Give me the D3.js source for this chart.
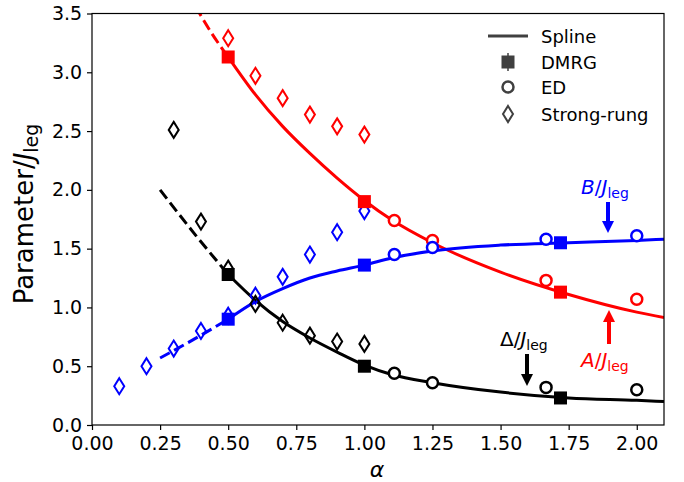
<!DOCTYPE html>
<html>
<head>
<meta charset="utf-8">
<script src="https://cdn.jsdelivr.net/npm/d3@7"></script>
<style>
  body { margin: 0; background: #fff; }
  text { font-family: "DejaVu Sans", sans-serif; }
</style>
</head>
<body>
<div id="chart"></div>
<script>
// DMRG points
const alphaDmrg = [0.5, 1.0, 1.72];
const dmrgA = [3.13, 1.90, 1.13];
const dmrgB = [0.90, 1.36, 1.55];
const dmrgD = [1.28, 0.50, 0.23];

// ED points
const alphaEd = [1.11, 1.25, 1.667, 2.0];
const edA = [1.74, 1.57, 1.23, 1.07];
const edB = [1.45, 1.51, 1.58, 1.61];
const edD = [0.44, 0.36, 0.32, 0.30];

// strong-rung expansion
const alphaSr = [0.1, 0.2, 0.3, 0.4, 0.5, 0.6, 0.7, 0.8, 0.9, 1.0];
const srA = [null, null, null, null, 3.29, 2.97, 2.78, 2.64, 2.54, 2.47];
const srB = [0.33, 0.50, 0.65, 0.80, 0.93, 1.10, 1.26, 1.45, 1.64, 1.82];
const srD = [null, null, 2.51, 1.73, 1.33, 1.03, 0.87, 0.76, 0.71, 0.69];

// spline curves
const alphaSpl = [0.5, 0.6, 0.7, 0.8, 0.9, 1.0, 1.1, 1.25, 1.5, 1.75, 2.0, 2.1];
const splA = [3.13, 2.81, 2.54, 2.31, 2.10, 1.91, 1.745, 1.55, 1.30, 1.11, 0.96, 0.915];
const splB = [0.90, 1.05, 1.16, 1.25, 1.31, 1.36, 1.42, 1.48, 1.53, 1.55, 1.57, 1.58];
const splD = [1.28, 1.06, 0.88, 0.74, 0.62, 0.51, 0.43, 0.36, 0.28, 0.23, 0.21, 0.20];
// extrapolated (dashed) parts
const alphaDashA = [0.38, 0.44, 0.5];
const dashA = [3.56, 3.33, 3.13];
const alphaDash = [0.25, 0.375, 0.5];
const dashB = [0.57, 0.73, 0.90];
const dashD = [2.00, 1.63, 1.28];

const xTicks = [0, 0.25, 0.5, 0.75, 1.0, 1.25, 1.5, 1.75, 2.0];
const yTicks = [0, 0.5, 1.0, 1.5, 2.0, 2.5, 3.0, 3.5];

const W = 684, H = 482;
const margin = { left: 92, right: 20, top: 13.5, bottom: 57 };

const svg = d3.select("#chart").append("svg")
  .attr("width", W).attr("height", H);

const x = d3.scaleLinear().domain([0, 2.1]).range([margin.left, W - margin.right]);
const y = d3.scaleLinear().domain([0, 3.5]).range([H - margin.bottom, margin.top]);

svg.append("clipPath").attr("id", "clip").append("rect")
  .attr("x", x(0)).attr("y", y(3.5))
  .attr("width", x(2.1) - x(0)).attr("height", y(0) - y(3.5));

const plot = svg.append("g").attr("clip-path", "url(#clip)");

const line = d3.line()
  .x((d) => x(d[0]))
  .y((d) => y(d[1]))
  .curve(d3.curveMonotoneX);

function curve(xs, ys, color, dashed) {
  plot.append("path")
    .datum(xs.map((a, i) => [a, ys[i]]))
    .attr("d", line)
    .attr("fill", "none")
    .attr("stroke", color)
    .attr("stroke-width", 3)
    .attr("stroke-dasharray", dashed ? "11,5" : null);
}

curve(alphaDashA, dashA, "red", true);
curve(alphaDash, dashB, "blue", true);
curve(alphaDash, dashD, "black", true);
curve(alphaSpl, splA, "red", false);
curve(alphaSpl, splB, "blue", false);
curve(alphaSpl, splD, "black", false);

const diamond = "M0,-8L5,0L0,8L-5,0Z";

function markers(xs, ys, color, kind) {
  const pts = xs.map((a, i) => [a, ys[i]]).filter((d) => d[1] != null);
  const g = svg.append("g");
  if (kind === "sq") {
    g.selectAll("rect").data(pts).join("rect")
      .attr("x", (d) => x(d[0]) - 6.5)
      .attr("y", (d) => y(d[1]) - 6.5)
      .attr("width", 13).attr("height", 13)
      .attr("fill", color);
  } else if (kind === "ci") {
    g.selectAll("circle").data(pts).join("circle")
      .attr("cx", (d) => x(d[0]))
      .attr("cy", (d) => y(d[1]))
      .attr("r", 5.5)
      .attr("fill", "white")
      .attr("stroke", color).attr("stroke-width", 2.5);
  } else {
    g.selectAll("path").data(pts).join("path")
      .attr("d", diamond)
      .attr("transform", (d) => "translate(" + x(d[0]) + "," + y(d[1]) + ")")
      .attr("fill", "none")
      .attr("stroke", color).attr("stroke-width", 2);
  }
}

markers(alphaSr, srB, "blue", "di");
markers(alphaSr, srD, "black", "di");
markers(alphaSr, srA, "red", "di");
markers(alphaDmrg, dmrgA, "red", "sq");
markers(alphaDmrg, dmrgB, "blue", "sq");
markers(alphaDmrg, dmrgD, "black", "sq");
markers(alphaEd, edA, "red", "ci");
markers(alphaEd, edB, "blue", "ci");
markers(alphaEd, edD, "black", "ci");

// axes
const xAxis = svg.append("g")
  .attr("transform", "translate(0," + y(0) + ")")
  .call(d3.axisBottom(x).tickValues(xTicks).tickFormat(d3.format(".2f")).tickSize(5).tickSizeOuter(0));
const yAxis = svg.append("g")
  .attr("transform", "translate(" + x(0) + ",0)")
  .call(d3.axisLeft(y).tickValues(yTicks).tickFormat(d3.format(".1f")).tickSize(5).tickSizeOuter(0));
[xAxis, yAxis].forEach((a) => {
  a.selectAll("text").attr("font-size", 19).attr("font-family", "DejaVu Sans").attr("fill", "black");
  a.selectAll("line").attr("stroke", "black").attr("stroke-width", 1.2);
  a.select(".domain").remove();
});
xAxis.selectAll("text").attr("dy", "0.9em");
yAxis.selectAll("text").attr("dx", "-0.1em");

svg.append("rect")
  .attr("x", x(0)).attr("y", y(3.5))
  .attr("width", x(2.1) - x(0)).attr("height", y(0) - y(3.5))
  .attr("fill", "none").attr("stroke", "black").attr("stroke-width", 1.2);

// axis labels
svg.append("text")
  .attr("x", 377).attr("y", 476.5)
  .attr("text-anchor", "middle").attr("font-size", 22)
  .attr("font-style", "italic").text("α");

const yl = svg.append("text")
  .attr("transform", "translate(33,214) rotate(-90)")
  .attr("text-anchor", "middle").attr("font-size", 26);
yl.append("tspan").text("Parameter/");
yl.append("tspan").attr("font-style", "italic").text("J");
yl.append("tspan").attr("font-size", 19).attr("dy", 5).text("leg");

// annotations
function label(px, py, head, color) {
  const t = svg.append("text").attr("x", px).attr("y", py)
    .attr("font-size", 20).attr("fill", color);
  if (head === "Δ") {
    t.append("tspan").text("Δ/");
  } else {
    t.append("tspan").attr("font-style", "italic").text(head);
    t.append("tspan").text("/");
  }
  t.append("tspan").attr("font-style", "italic").text("J");
  t.append("tspan").attr("font-size", 14).attr("dy", 4).text("leg");
}
function arrow(ax, y0, y1, color) {
  const dir = Math.sign(y1 - y0);
  const headLen = 12;
  svg.append("line")
    .attr("x1", ax).attr("x2", ax)
    .attr("y1", y0).attr("y2", y1 - dir * headLen)
    .attr("stroke", color).attr("stroke-width", 4);
  svg.append("path")
    .attr("d", "M" + (ax - 6) + "," + (y1 - dir * headLen) + "L" + (ax + 6) + "," + (y1 - dir * headLen) + "L" + ax + "," + y1 + "Z")
    .attr("fill", color);
}
label(581, 194, "B", "blue");
arrow(608, 202, 233, "blue");
label(581, 367, "A", "red");
arrow(609, 344, 310, "red");
label(500, 346, "Δ", "black");
arrow(527, 354, 386, "black");

// legend
const legColor = "#404040";
const lg = svg.append("g");
const legItems = ["Spline", "DMRG", "ED", "Strong-rung"];
const legY = [36, 62, 87, 114];
legItems.forEach((name, i) => {
  lg.append("text").attr("x", 541).attr("y", legY[i] + 6.5)
    .attr("font-size", 18).attr("fill", "black").text(name);
});
lg.append("line").attr("x1", 488).attr("x2", 528).attr("y1", legY[0]).attr("y2", legY[0])
  .attr("stroke", legColor).attr("stroke-width", 3);
lg.append("line").attr("x1", 508).attr("x2", 508).attr("y1", legY[1] - 9).attr("y2", legY[1] + 9)
  .attr("stroke", legColor).attr("stroke-width", 1.5);
lg.append("rect").attr("x", 501.5).attr("y", legY[1] - 6.5).attr("width", 13).attr("height", 13)
  .attr("fill", legColor);
lg.append("circle").attr("cx", 508).attr("cy", legY[2]).attr("r", 5.5)
  .attr("fill", "white").attr("stroke", legColor).attr("stroke-width", 2.5);
lg.append("path").attr("d", diamond).attr("transform", "translate(508," + legY[3] + ")")
  .attr("fill", "none").attr("stroke", legColor).attr("stroke-width", 2);
</script>
</body>
</html>
